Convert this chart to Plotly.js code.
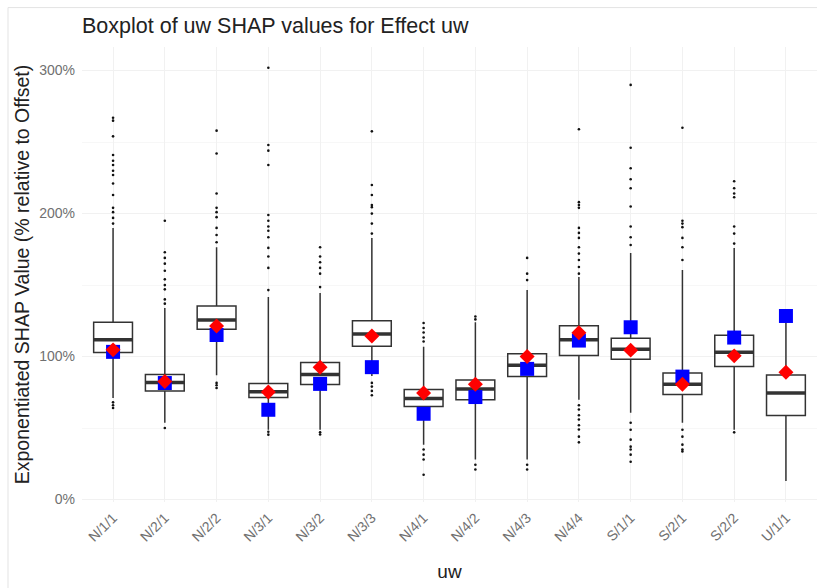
<!DOCTYPE html>
<html>
<head>
<meta charset="utf-8">
<script src="https://cdn.plot.ly/plotly-3.0.1.min.js"></script>
<style>
  html, body { margin: 0; padding: 0; background: #ffffff; }
  #chart { width: 817px; height: 588px; }
</style>
</head>
<body>
<div id="chart"></div>
<script>
// Categories (uw levels)
const categories = ['N/1/1','N/2/1','N/2/2','N/3/1','N/3/2','N/3/3','N/4/1','N/4/2','N/4/3','N/4/4','S/1/1','S/2/1','S/2/2','U/1/1'];

// Box statistics (% relative to offset)
const q1Values     = [102.8, 75.9, 119.1, 71.4, 80.5, 107.3, 65.1, 69.8, 86.0, 100.7, 98.2, 73.5, 93.0, 58.8];
const medianValues = [111.7, 81.9, 125.6, 75.4, 87.4, 115.8, 70.7, 77.3, 94.0, 111.7, 105.2, 80.7, 103.1, 74.5];
const q3Values     = [124.0, 87.4, 135.4, 81.2, 95.8, 125.1, 77.0, 83.7, 101.9, 121.6, 112.8, 88.6, 114.9, 87.2];
const lowerWhisker = [71.0, 53.7, 87.0, 48.8, 48.8, 86.5, 38.4, 28.0, 28.0, 69.8, 60.7, 53.7, 48.8, 13.0];
const upperWhisker = [190.0, 134.0, 176.5, 141.7, 144.5, 183.0, 106.8, 124.0, 146.5, 155.6, 172.4, 160.5, 176.0, 129.0];

// Red diamonds (mean) and blue squares (reference value)
const meanValues      = [104.7, 82.6, 121.4, 75.2, 92.6, 114.4, 74.5, 80.7, 100.0, 116.7, 104.5, 80.7, 100.5, 89.1];
const referenceValues = [103.3, 81.5, 115.1, 62.8, 80.9, 92.6, 60.0, 71.7, 91.4, 111.2, 120.5, 86.0, 113.3, 128.4];

// Outliers per category
const outliers = [
  [267, 265, 254, 241, 237, 234, 230, 227, 221, 213, 204, 201, 197, 193, 68, 66, 64],
  [195, 173, 169, 165, 160, 154, 150, 147, 140, 137, 50],
  [258, 242, 214, 204, 201, 197.5, 190, 185, 180, 81.6, 80, 78],
  [302, 248, 244, 234, 199, 195, 191, 188, 183.5, 176, 170, 162, 146.5, 47.4, 45.4],
  [176.5, 170, 166, 162, 158, 148.6, 47, 45.5],
  [257.5, 220, 213, 206, 204.5, 200, 193, 186, 81.6, 79, 76, 73],
  [123.5, 120, 116.8, 113.3, 110.5, 35, 31.4, 28, 17.4],
  [126, 128, 24.4, 21],
  [169, 158, 153.5, 24.4, 21],
  [259, 208, 206, 204, 190, 186.5, 183, 176.5, 172, 167.5, 162.6, 158, 66, 63, 59, 56, 52, 49, 44, 40],
  [290, 246, 231.7, 224, 217.7, 205, 191, 183.5, 178, 53.7, 48.8, 41.9, 37, 35, 31.4, 26.5],
  [260, 195, 193, 190.5, 183, 176.5, 167.5, 48.8, 44, 38.4, 35, 33.7],
  [222.6, 217.7, 214, 211.4, 191, 186, 179, 47],
  []
];

const yTickVals = [0, 100, 200, 300];
const yTickText = ['0%', '100%', '200%', '300%'];

const outX = [], outY = [];
outliers.forEach((arr, i) => arr.forEach(v => { outX.push(categories[i]); outY.push(v); }));

const lineColor = '#333333';

const traces = [
  {
    type: 'box',
    x: categories,
    q1: q1Values,
    median: medianValues,
    q3: q3Values,
    lowerfence: lowerWhisker,
    upperfence: upperWhisker,
    boxpoints: false,
    width: 0.75,
    whiskerwidth: 0,
    fillcolor: '#ffffff',
    line: { color: lineColor, width: 1.5 },
    hoverinfo: 'skip',
    showlegend: false
  },
  {
    type: 'scatter',
    mode: 'markers',
    x: categories,
    y: medianValues,
    marker: { symbol: 'line-ew', size: 27.7, color: lineColor, line: { color: lineColor, width: 3.5 } },
    hoverinfo: 'skip',
    showlegend: false
  },
  {
    type: 'scatter',
    mode: 'markers',
    x: outX,
    y: outY,
    marker: { symbol: 'circle', size: 2.6, color: '#111111' },
    hoverinfo: 'skip',
    showlegend: false
  },
  {
    type: 'scatter',
    mode: 'markers',
    x: categories,
    y: referenceValues,
    marker: { symbol: 'square', size: 14, color: '#0000ff' },
    hoverinfo: 'skip',
    showlegend: false
  },
  {
    type: 'scatter',
    mode: 'markers',
    x: categories,
    y: meanValues,
    marker: { symbol: 'diamond', size: 11.5, color: '#ff0000' },
    hoverinfo: 'skip',
    showlegend: false
  }
];

const font = 'Liberation Sans, Arial, sans-serif';

const layout = {
  width: 817,
  height: 588,
  margin: { l: 82, r: 0, t: 46.5, b: 85.5, pad: 0 },
  paper_bgcolor: '#ffffff',
  plot_bgcolor: '#ffffff',
  font: { family: font, color: '#222222' },
  title: {
    text: 'Boxplot of uw SHAP values for Effect uw',
    font: { family: font, size: 21.5, color: '#222222' },
    x: 0, xref: 'paper', xanchor: 'left',
    y: 1 - 25 / 588, yref: 'container', yanchor: 'middle'
  },
  xaxis: {
    type: 'category',
    categoryorder: 'array',
    categoryarray: categories,
    range: [-0.6, 13.6],
    tickangle: -45,
    ticks: '',
    showline: false,
    zeroline: false,
    showgrid: true,
    gridcolor: '#f1f1f1',
    gridwidth: 1,
    ticklabelstandoff: 4,
    tickfont: { family: font, size: 14, color: '#707070' },
    title: { text: 'uw', font: { family: font, size: 19, color: '#222222' }, standoff: 20 }
  },
  yaxis: {
    range: [-1.7, 316.5],
    tickvals: yTickVals,
    ticktext: yTickText,
    ticks: '',
    showline: false,
    zeroline: false,
    showgrid: true,
    gridcolor: '#f1f1f1',
    gridwidth: 1,
    minor: { tickvals: [50, 150, 250], showgrid: true, gridcolor: '#f7f7f7', gridwidth: 1 },
    ticklabelstandoff: 6,
    tickfont: { family: font, size: 14, color: '#707070' },
    title: { text: 'Exponentiated SHAP Value (% relative to Offset)', font: { family: font, size: 19.5, color: '#222222' }, standoff: 4 }
  },
  shapes: [
    {
      type: 'rect', xref: 'paper', yref: 'paper',
      x0: (8 - 82) / 735, x1: 1.01,
      y0: -0.3, y1: (502.5 - 7) / 456,
      line: { color: '#e3e3e3', width: 1 },
      fillcolor: 'rgba(0,0,0,0)',
      layer: 'below'
    }
  ],
  showlegend: false
};

Plotly.newPlot('chart', traces, layout, { displayModeBar: false, staticPlot: true });
</script>
</body>
</html>
